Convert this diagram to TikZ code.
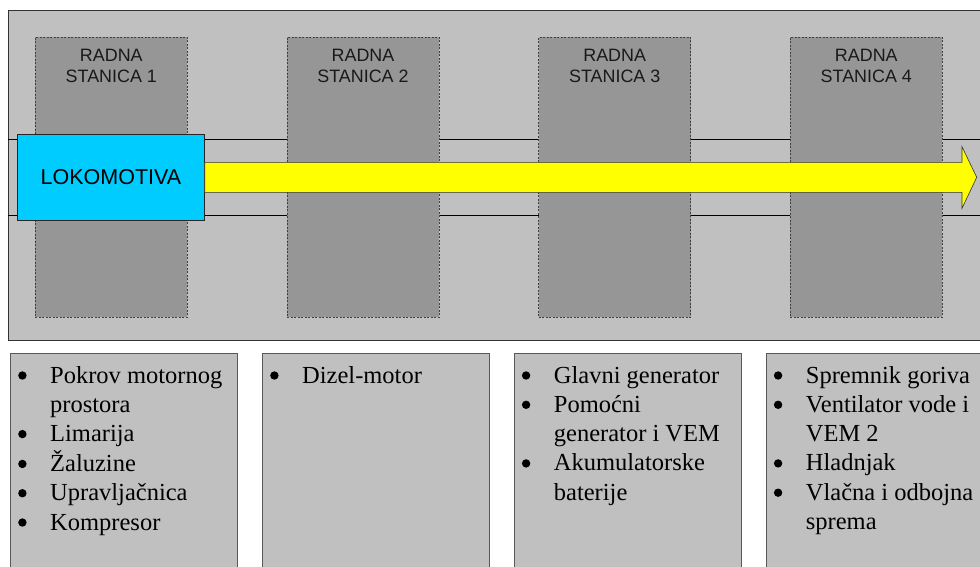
\documentclass[tikz,border=0pt]{standalone}
\usepackage{fontspec}
\setmainfont{Liberation Serif}
\newfontfamily\arialfont{Liberation Sans}
\definecolor{silverc}{HTML}{C0C0C0}
\definecolor{stationc}{HTML}{969696}
\definecolor{lococ}{HTML}{00CCFF}
\definecolor{arrowyel}{HTML}{FFFF00}
\definecolor{edgec}{HTML}{333333}
\newcommand{\bulmark}{\raisebox{3.3pt}{\tikz\fill[black] (0,0) circle (4.2pt);}}
\tikzset{
  outerframe/.style={draw=edgec, fill=silverc, line width=0.8pt, inner sep=0pt, anchor=north west},
  track/.style={draw=black, line width=0.7pt},
  station/.style={draw=black!75, fill=stationc, dash pattern=on 2pt off 1.5pt, line width=0.7pt,
    minimum width=152pt, minimum height=280pt, inner sep=0pt},
  stlabel/.style={font=\arialfont\fontsize{17.9pt}{21.7pt}\selectfont, text=black!90, inner sep=0pt, anchor=base},
  loco/.style={draw=black!85, fill=lococ, line width=0.7pt, minimum width=186.7pt, minimum height=86pt,
    inner sep=0pt, font=\arialfont\fontsize{21.5pt}{25pt}\selectfont},
  flowarrow/.style={draw=black!80, fill=arrowyel, line width=0.6pt},
  listbox/.style={draw=black!65, fill=silverc, line width=0.8pt, anchor=north west,
    minimum width=227.3pt, minimum height=240pt, inner sep=0pt},
  listtext/.style={font=\fontsize{24.5pt}{29.3pt}\selectfont, inner sep=0pt, anchor=base west}
}
\begin{document}
\begin{tikzpicture}[x=1pt,y=-1pt]
\useasboundingbox (0,0) rectangle (980,566);
\clip (0,0) rectangle (980,566);
\fill[white] (0,0) rectangle (980,566);
% outer frame
\node[outerframe, minimum width=990pt, minimum height=330.5pt] (frame) at (7.5,9.5) {};
% track lines
\coordinate (trackA) at (0,139.3);
\coordinate (trackB) at (0,215.3);
\draw[track] (frame.west |- trackA) -- (frame.east |- trackA);
\draw[track] (frame.west |- trackB) -- (frame.east |- trackB);
% stations
\foreach \i/\cx in {1/111.3,2/363,3/614.7,4/866.3}{
  \node[station] (s\i) at (\cx,177) {};
  \node[stlabel] (l\i) at (\cx,61) {\begin{tabular}[t]{@{}c@{}}RADNA\\STANICA \i\end{tabular}};
}
% locomotive
\node[loco] (loco) at (111,177.3) {LOKOMOTIVA};
% arrow
\coordinate (arrTop) at (0,162.3);
\coordinate (arrBot) at (0,192.3);
\coordinate (tip) at (976.7,177.3);
\draw[flowarrow] (loco.east |- arrTop) -- (962,162.3) -- (962,146.7) -- (tip)
  -- (962,208.3) -- (962,192.3) -- (loco.east |- arrBot) -- cycle;
% lower boxes
\foreach \i/\lx in {1/10,2/262,3/513.7,4/765.7}{
  \node[listbox] (b\i) at (\lx,352.7) {};
}
\node[listtext] (t1) at (18,383) {\begin{tabular}[t]{@{}p{32pt}@{}l@{}}
\bulmark & Pokrov motornog\\
 & prostora\\
\bulmark & Limarija\\
\bulmark & Žaluzine\\
\bulmark & Upravljačnica\\
\bulmark & Kompresor
\end{tabular}};
\node[listtext] (t2) at (270,383) {\begin{tabular}[t]{@{}p{32pt}@{}l@{}}
\bulmark & Dizel-motor
\end{tabular}};
\node[listtext] (t3) at (521.7,383) {\begin{tabular}[t]{@{}p{32pt}@{}l@{}}
\bulmark & Glavni generator\\
\bulmark & Pomoćni\\
 & generator i VEM\\
\bulmark & Akumulatorske\\
 & baterije
\end{tabular}};
\node[listtext] (t4) at (773.7,383) {\begin{tabular}[t]{@{}p{32pt}@{}l@{}}
\bulmark & Spremnik goriva\\
\bulmark & Ventilator vode i\\
 & VEM 2\\
\bulmark & Hladnjak\\
\bulmark & Vlačna i odbojna\\
 & sprema
\end{tabular}};
\end{tikzpicture}
\end{document}
